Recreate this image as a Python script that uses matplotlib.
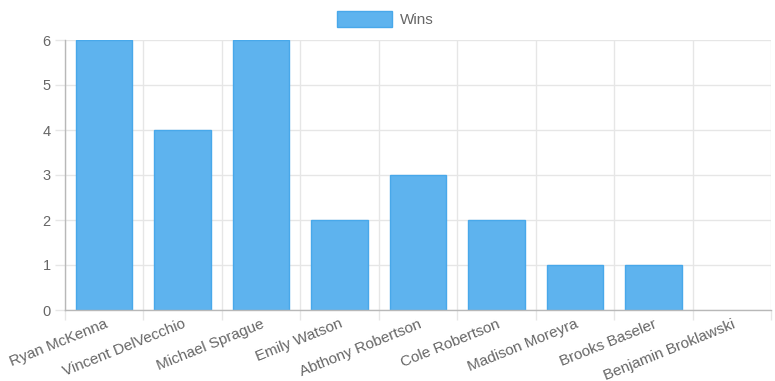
import matplotlib
matplotlib.use('Agg')
import matplotlib.pyplot as plt

players = ['Ryan McKenna', 'Vincent DelVecchio', 'Michael Sprague', 'Emily Watson',
           'Abthony Robertson', 'Cole Robertson', 'Madison Moreyra', 'Brooks Baseler',
           'Benjamin Broklawski']
wins = [6, 4, 6, 2, 3, 2, 1, 1, 0]

plt.rcParams['font.family'] = ['Liberation Sans', 'DejaVu Sans']

grid_col = '#e6e6e6'
text_col = '#666666'
bar_face = '#5eb3ee'
bar_edge = '#48a8ea'

fig = plt.figure(figsize=(7.75, 3.81), dpi=100)
ax = fig.add_axes([65 / 775, 1 - 310 / 381, (771 - 65) / 775, 270 / 381])

x = list(range(len(players)))
# no border on empty bars, like the original
edge_w = [1 if w > 0 else 0 for w in wins]
ax.bar(x, wins, width=0.72, color=bar_face, edgecolor=bar_edge, linewidth=edge_w,
       zorder=3, label='Wins')

ax.set_xlim(-0.5, len(players) - 0.5)
ax.set_ylim(0, 6)
ax.set_yticks(range(7))

# category labels at centres, grid/ticks at boundaries
ax.set_xticks(x)
ax.set_xticklabels(players, rotation=22, ha='right', rotation_mode='anchor',
                   color=text_col, fontsize=11)
ax.tick_params(axis='x', which='major', length=0, pad=5)
ax.set_xticks([i - 0.5 for i in range(len(players) + 1)], minor=True)
ax.tick_params(axis='x', which='minor', length=7.2, color=grid_col, width=1)
ax.tick_params(axis='y', length=7.2, color=grid_col, width=1, pad=3,
               labelcolor=text_col, labelsize=10.5)

ax.grid(True, which='minor', axis='x', color=grid_col, linewidth=1, zorder=0)
ax.grid(True, which='major', axis='y', color=grid_col, linewidth=1, zorder=0)

for s in ['top', 'right']:
    ax.spines[s].set_visible(False)
for s in ['left', 'bottom']:
    ax.spines[s].set_color('#b8b8b8')
    ax.spines[s].set_linewidth(1)
    ax.spines[s].set_zorder(4)

fig.legend(loc='center', bbox_to_anchor=(0.497, 1 - 19 / 381), frameon=False,
           handlelength=3.6, handleheight=1.2, handletextpad=0.55, fontsize=11,
           labelcolor=text_col)

fig.savefig('out.png', dpi=100)
